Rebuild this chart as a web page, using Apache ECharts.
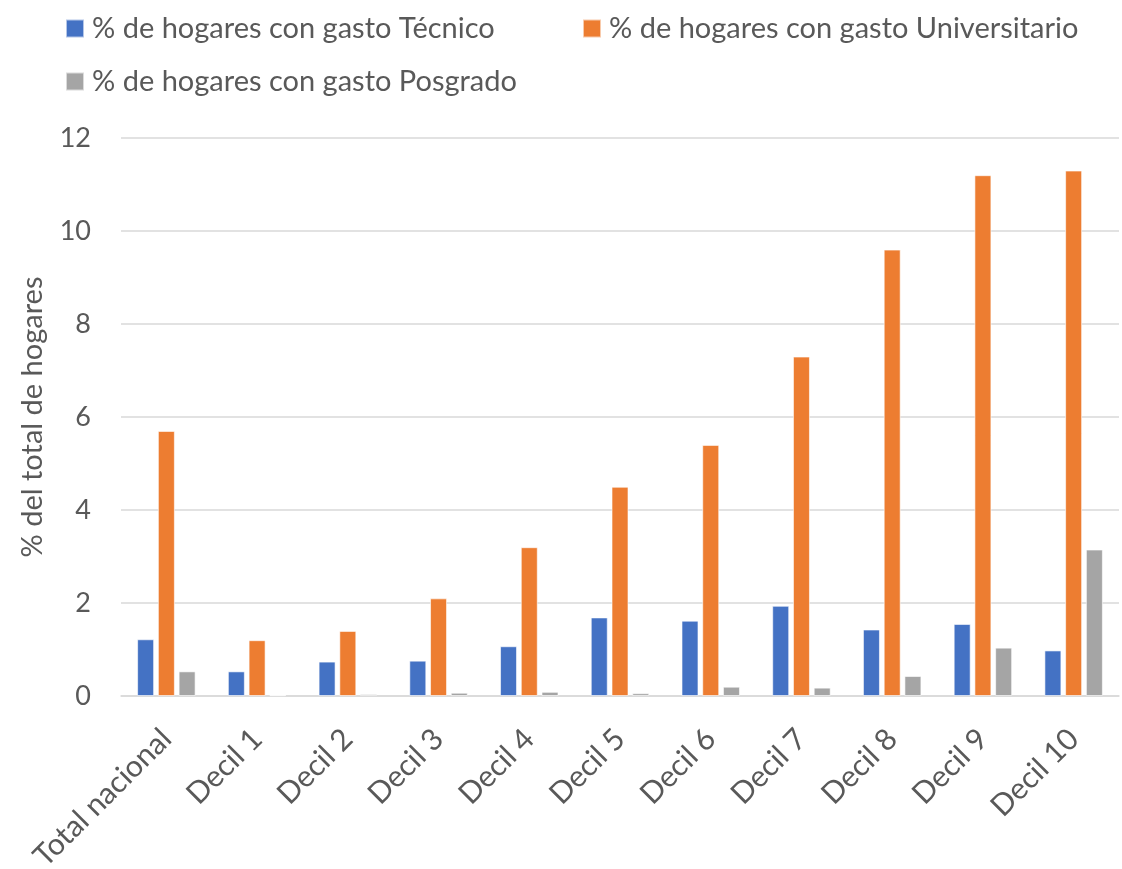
<!DOCTYPE html>
<html>
<head>
<meta charset="utf-8">
<script src="https://cdn.jsdelivr.net/npm/echarts@6/dist/echarts.min.js"></script>
<style>
html,body{margin:0;padding:0;background:#fff;}
#chart{width:1122px;height:869px;}
</style>
</head>
<body>
<div id="chart"></div>
<script>
const categories = ["Total nacional","Decil 1","Decil 2","Decil 3","Decil 4","Decil 5","Decil 6","Decil 7","Decil 8","Decil 9","Decil 10"];
const seriesNames = ["% de hogares con gasto Técnico","% de hogares con gasto Universitario","% de hogares con gasto Posgrado"];
const tecnico = [1.22,0.53,0.74,0.76,1.07,1.69,1.62,1.94,1.43,1.55,0.98];
const universitario = [5.7,1.2,1.4,2.1,3.2,4.5,5.4,7.3,9.6,11.2,11.3];
const posgrado = [0.53,0.02,0.04,0.07,0.09,0.06,0.2,0.18,0.43,1.04,3.15];
const yTicks = [0,2,4,6,8,10,12];
const yTitle = "% del total de hogares";

const FONT = "Lato";
const TXT = "#595959";
const colors = ["#4472C4","#ED7D31","#A5A5A5"];
const values = [tecnico, universitario, posgrado];

const chart = echarts.init(document.getElementById('chart'), null, {renderer:'canvas'});
const legendBase = {
  orient:'horizontal', itemWidth:18, itemHeight:18, itemGap:10, icon:'rect', padding:0,
  textStyle:{fontFamily:FONT, fontSize:29, color:TXT, padding:[0,0,0,3]}
};
chart.setOption({
  animation:false,
  textStyle:{fontFamily:FONT},
  legend:[
    Object.assign({}, legendBase, {left:65, top:14, data:[seriesNames[0]]}),
    Object.assign({}, legendBase, {left:582, top:14, data:[seriesNames[1]]}),
    Object.assign({}, legendBase, {left:65, top:67, data:[seriesNames[2]]})
  ],
  grid:{left:121, right:3, top:138, bottom:173, containLabel:false, outerBoundsMode:'none'},
  xAxis:{
    type:'category', data:categories,
    axisLine:{lineStyle:{color:'#d9d9d9', width:1.5}},
    axisTick:{show:false},
    axisLabel:{rotate:45, fontFamily:FONT, fontSize:30, color:TXT, margin:38, interval:0}
  },
  yAxis:{
    type:'value', min:0, max:12, interval:2,
    name:yTitle, nameLocation:'middle', nameGap:74, nameRotate:90,
    nameTextStyle:{fontFamily:FONT, fontSize:29, color:TXT},
    axisLine:{show:false}, axisTick:{show:false},
    axisLabel:{fontFamily:FONT, fontSize:27, color:TXT, margin:30,
      formatter:function(v){return yTicks.indexOf(v)>=0 ? String(v) : '';}},
    splitLine:{lineStyle:{color:'#d9d9d9', width:1.5}}
  },
  series: seriesNames.map(function(n,i){
    return {name:n, type:'bar', data:values[i], barWidth:17, barGap:'22%',
      itemStyle:{color:colors[i], borderColor:'rgba(255,255,255,0.6)', borderWidth:1}};
  })
});
</script>
</body>
</html>
